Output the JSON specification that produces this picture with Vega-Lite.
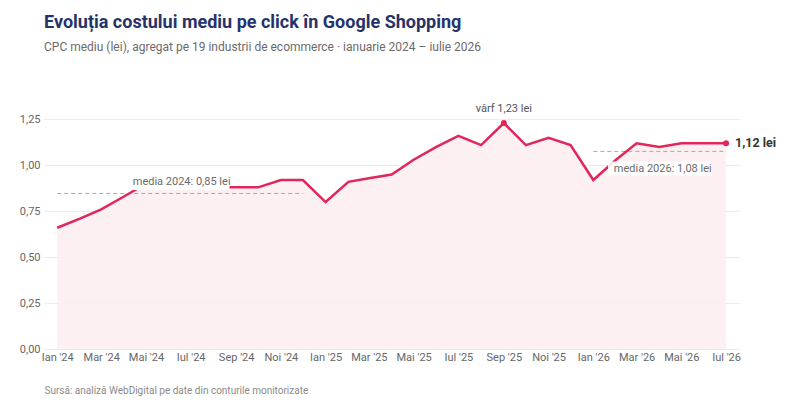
{
  "$schema": "https://vega.github.io/schema/vega-lite/v6.json",
  "width": 696,
  "height": 248,
  "autosize": {"type": "none"},
  "padding": {"left": 44, "top": 101, "right": 60, "bottom": 57},
  "background": "white",
  "title": {
    "text": "Evoluția costului mediu pe click în Google Shopping",
    "subtitle": "CPC mediu (lei), agregat pe 19 industrii de ecommerce · ianuarie 2024 – iulie 2026",
    "anchor": "start",
    "frame": "group",
    "offset": 48,
    "font": "Roboto",
    "fontSize": 18,
    "fontWeight": "bold",
    "color": "#26336a",
    "subtitleFont": "Roboto",
    "subtitleFontSize": 12,
    "subtitleColor": "#6b6b6b",
    "subtitlePadding": 10
  },
  "data": {
    "values": [
      {"luna": "2024-01-01T00:00:00", "cpc": 0.66},
      {"luna": "2024-02-01T00:00:00", "cpc": 0.71},
      {"luna": "2024-03-01T00:00:00", "cpc": 0.76},
      {"luna": "2024-04-01T00:00:00", "cpc": 0.83},
      {"luna": "2024-05-01T00:00:00", "cpc": 0.90},
      {"luna": "2024-06-01T00:00:00", "cpc": 0.92},
      {"luna": "2024-07-01T00:00:00", "cpc": 0.90},
      {"luna": "2024-08-01T00:00:00", "cpc": 0.88},
      {"luna": "2024-09-01T00:00:00", "cpc": 0.88},
      {"luna": "2024-10-01T00:00:00", "cpc": 0.88},
      {"luna": "2024-11-01T00:00:00", "cpc": 0.92},
      {"luna": "2024-12-01T00:00:00", "cpc": 0.92},
      {"luna": "2025-01-01T00:00:00", "cpc": 0.80},
      {"luna": "2025-02-01T00:00:00", "cpc": 0.91},
      {"luna": "2025-03-01T00:00:00", "cpc": 0.93},
      {"luna": "2025-04-01T00:00:00", "cpc": 0.95},
      {"luna": "2025-05-01T00:00:00", "cpc": 1.03},
      {"luna": "2025-06-01T00:00:00", "cpc": 1.10},
      {"luna": "2025-07-01T00:00:00", "cpc": 1.16},
      {"luna": "2025-08-01T00:00:00", "cpc": 1.11},
      {"luna": "2025-09-01T00:00:00", "cpc": 1.23},
      {"luna": "2025-10-01T00:00:00", "cpc": 1.11},
      {"luna": "2025-11-01T00:00:00", "cpc": 1.15},
      {"luna": "2025-12-01T00:00:00", "cpc": 1.11},
      {"luna": "2026-01-01T00:00:00", "cpc": 0.92},
      {"luna": "2026-02-01T00:00:00", "cpc": 1.03},
      {"luna": "2026-03-01T00:00:00", "cpc": 1.12},
      {"luna": "2026-04-01T00:00:00", "cpc": 1.10},
      {"luna": "2026-05-01T00:00:00", "cpc": 1.12},
      {"luna": "2026-06-01T00:00:00", "cpc": 1.12},
      {"luna": "2026-07-01T00:00:00", "cpc": 1.12}
    ]
  },
  "encoding": {
    "x": {
      "field": "luna",
      "type": "temporal",
      "scale": {"domain": [{"year": 2023, "month": 12, "date": 14}, {"year": 2026, "month": 7, "date": 20}]},
      "axis": {
        "title": "Sursă: analiză WebDigital pe date din conturile monitorizate",
        "titleAnchor": "start",
        "titleFont": "Roboto",
        "titleFontSize": 10,
        "titleFontWeight": "normal",
        "titleColor": "#8a8a8a",
        "titlePadding": 23,
        "tickCount": {"interval": "month", "step": 2},
        "labelExpr": "['Ian','Feb','Mar','Apr','Mai','Iun','Iul','Aug','Sep','Oct','Noi','Dec'][month(datum.value)] + \" '\" + timeFormat(datum.value, '%y')",
        "labelFont": "Roboto",
        "labelFontSize": 11,
        "labelColor": "#666666",
        "labelPadding": 2,
        "domain": false,
        "ticks": false,
        "grid": false
      }
    },
    "y": {
      "field": "cpc",
      "type": "quantitative",
      "scale": {"domain": [0, 1.35], "nice": false},
      "axis": {
        "title": null,
        "values": [0, 0.25, 0.5, 0.75, 1, 1.25],
        "labelExpr": "replace(format(datum.value, '.2f'), '.', ',')",
        "labelFont": "Roboto",
        "labelFontSize": 11,
        "labelColor": "#666666",
        "labelPadding": 4,
        "domain": false,
        "ticks": false,
        "gridColor": "#ebebeb"
      }
    }
  },
  "layer": [
    {"mark": {"type": "area", "color": "#fdeef2", "opacity": 0.9}},
    {
      "transform": [{"filter": "year(datum.luna) == 2024"}],
      "mark": {"type": "rule", "color": "#a8a8a8", "strokeDash": [4, 3], "strokeWidth": 1},
      "encoding": {
        "x": {"aggregate": "min", "field": "luna", "type": "temporal"},
        "x2": {"aggregate": "max", "field": "luna"},
        "y": {"aggregate": "mean", "field": "cpc", "type": "quantitative"}
      }
    },
    {
      "transform": [{"filter": "year(datum.luna) == 2026"}],
      "mark": {"type": "rule", "color": "#a8a8a8", "strokeDash": [4, 3], "strokeWidth": 1},
      "encoding": {
        "x": {"aggregate": "min", "field": "luna", "type": "temporal"},
        "x2": {"aggregate": "max", "field": "luna"},
        "y": {"aggregate": "mean", "field": "cpc", "type": "quantitative"}
      }
    },
    {"mark": {"type": "line", "color": "#e0265a", "strokeWidth": 2.5}},
    {
      "transform": [{"filter": "year(datum.luna) == 2024 && month(datum.luna) == 3"}],
      "mark": {"type": "rect", "color": "white", "opacity": 1},
      "encoding": {
        "x": {"datum": {"year": 2024, "month": 4, "date": 13}},
        "x2": {"datum": {"year": 2024, "month": 8, "date": 23}},
        "y": {"datum": 0.866},
        "y2": {"datum": 0.965}
      }
    },
    {
      "transform": [{"filter": "year(datum.luna) == 2026 && month(datum.luna) == 0"}],
      "mark": {"type": "rect", "color": "white", "opacity": 0.88},
      "encoding": {
        "x": {"datum": {"year": 2026, "month": 1, "date": 21}},
        "x2": {"datum": {"year": 2026, "month": 6, "date": 12}},
        "y": {"datum": 0.945},
        "y2": {"datum": 1.02}
      }
    },
    {
      "transform": [{"filter": "year(datum.luna) == 2024 && month(datum.luna) == 3"}],
      "mark": {"type": "text", "align": "left", "baseline": "alphabetic", "font": "Roboto", "fontSize": 11, "color": "#6b6b6b", "text": "media 2024: 0,85 lei"},
      "encoding": {
        "x": {"datum": {"year": 2024, "month": 4, "date": 13}},
        "y": {"datum": 0.893}
      }
    },
    {
      "transform": [{"filter": "year(datum.luna) == 2026 && month(datum.luna) == 0"}],
      "mark": {"type": "text", "align": "left", "baseline": "alphabetic", "font": "Roboto", "fontSize": 11, "color": "#6b6b6b", "text": "media 2026: 1,08 lei"},
      "encoding": {
        "x": {"datum": {"year": 2026, "month": 1, "date": 29}},
        "y": {"datum": 0.964}
      }
    },
    {
      "transform": [{"filter": "datum.cpc == 1.23"}],
      "mark": {"type": "text", "align": "center", "baseline": "alphabetic", "dy": -11, "font": "Roboto", "fontSize": 11, "color": "#555555", "text": "vârf 1,23 lei"}
    },
    {
      "transform": [{"filter": "datum.cpc == 1.23 || datetime(datum.luna) >= datetime(2026, 6, 1)"}],
      "mark": {"type": "point", "filled": true, "color": "#e0265a", "size": 36, "opacity": 1}
    },
    {
      "transform": [{"filter": "datetime(datum.luna) >= datetime(2026, 6, 1)"}],
      "mark": {"type": "text", "align": "left", "baseline": "middle", "dx": 9, "font": "Roboto", "fontSize": 12.5, "fontWeight": "bold", "color": "#333333", "text": "1,12 lei"}
    }
  ],
  "config": {
    "view": {"stroke": null},
    "font": "Roboto"
  }
}
